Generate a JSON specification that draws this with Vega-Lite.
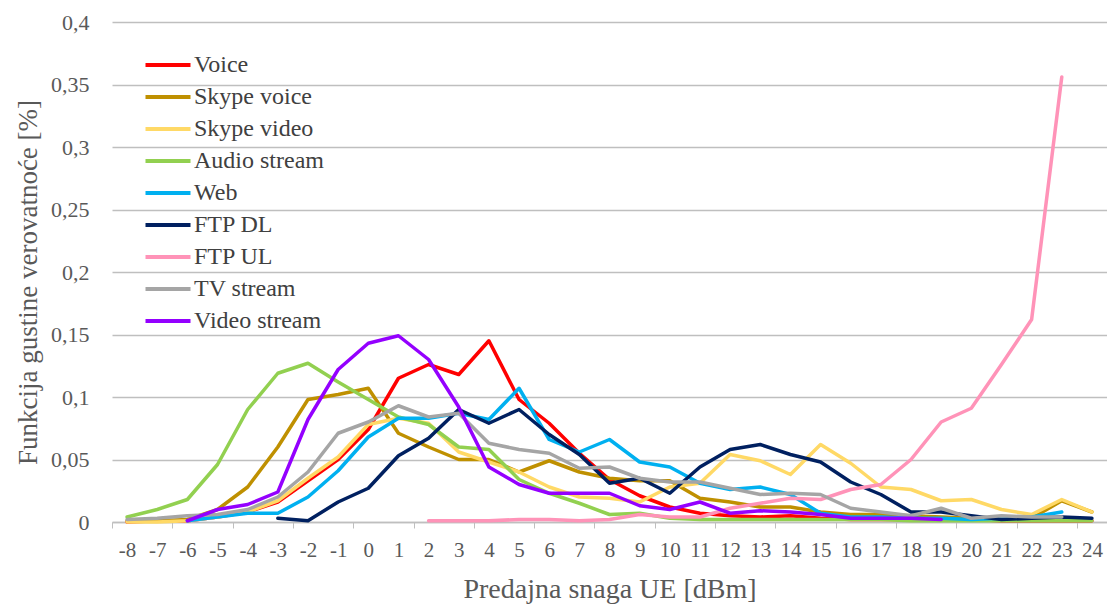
{
  "$schema": "https://vega.github.io/schema/vega-lite/v6.json",
  "width": 995,
  "height": 500,
  "autosize": {"type": "none"},
  "padding": {"left": 112, "top": 22, "right": 0, "bottom": 84},
  "background": "white",
  "config": {
    "view": {"stroke": null},
    "font": "Liberation Serif",
    "text": {"font": "Liberation Serif"}
  },
  "data": {"values": [
    {"s":"Voice","x":-8,"y":0.0},{"s":"Voice","x":-7,"y":0.001},{"s":"Voice","x":-6,"y":0.001},{"s":"Voice","x":-5,"y":0.004},{"s":"Voice","x":-4,"y":0.008},{"s":"Voice","x":-3,"y":0.016},{"s":"Voice","x":-2,"y":0.033},{"s":"Voice","x":-1,"y":0.05},{"s":"Voice","x":0,"y":0.074},{"s":"Voice","x":1,"y":0.115},{"s":"Voice","x":2,"y":0.126},{"s":"Voice","x":3,"y":0.118},{"s":"Voice","x":4,"y":0.145},{"s":"Voice","x":5,"y":0.098},{"s":"Voice","x":6,"y":0.079},{"s":"Voice","x":7,"y":0.055},{"s":"Voice","x":8,"y":0.034},{"s":"Voice","x":9,"y":0.021},{"s":"Voice","x":10,"y":0.012},{"s":"Voice","x":11,"y":0.007},{"s":"Voice","x":12,"y":0.005},{"s":"Voice","x":13,"y":0.004},{"s":"Voice","x":14,"y":0.005},{"s":"Voice","x":15,"y":0.003},{"s":"Voice","x":16,"y":0.002},{"s":"Voice","x":17,"y":0.002},{"s":"Voice","x":18,"y":0.002},{"s":"Voice","x":19,"y":0.002},{"s":"Voice","x":20,"y":0.002},{"s":"Voice","x":21,"y":0.001},{"s":"Voice","x":22,"y":0.001},{"s":"Voice","x":23,"y":0.001},{"s":"Voice","x":24,"y":0.001},
    {"s":"Skype voice","x":-8,"y":0.001},{"s":"Skype voice","x":-7,"y":0.001},{"s":"Skype voice","x":-6,"y":0.002},{"s":"Skype voice","x":-5,"y":0.01},{"s":"Skype voice","x":-4,"y":0.028},{"s":"Skype voice","x":-3,"y":0.06},{"s":"Skype voice","x":-2,"y":0.098},{"s":"Skype voice","x":-1,"y":0.102},{"s":"Skype voice","x":0,"y":0.107},{"s":"Skype voice","x":1,"y":0.071},{"s":"Skype voice","x":2,"y":0.06},{"s":"Skype voice","x":3,"y":0.05},{"s":"Skype voice","x":4,"y":0.05},{"s":"Skype voice","x":5,"y":0.04},{"s":"Skype voice","x":6,"y":0.049},{"s":"Skype voice","x":7,"y":0.04},{"s":"Skype voice","x":8,"y":0.035},{"s":"Skype voice","x":9,"y":0.033},{"s":"Skype voice","x":10,"y":0.033},{"s":"Skype voice","x":11,"y":0.019},{"s":"Skype voice","x":12,"y":0.016},{"s":"Skype voice","x":13,"y":0.012},{"s":"Skype voice","x":14,"y":0.012},{"s":"Skype voice","x":15,"y":0.008},{"s":"Skype voice","x":16,"y":0.006},{"s":"Skype voice","x":17,"y":0.006},{"s":"Skype voice","x":18,"y":0.005},{"s":"Skype voice","x":19,"y":0.004},{"s":"Skype voice","x":20,"y":0.003},{"s":"Skype voice","x":21,"y":0.003},{"s":"Skype voice","x":22,"y":0.003},{"s":"Skype voice","x":23,"y":0.017},{"s":"Skype voice","x":24,"y":0.008},
    {"s":"Skype video","x":-8,"y":0.0},{"s":"Skype video","x":-7,"y":0.0},{"s":"Skype video","x":-6,"y":0.001},{"s":"Skype video","x":-5,"y":0.004},{"s":"Skype video","x":-4,"y":0.008},{"s":"Skype video","x":-3,"y":0.017},{"s":"Skype video","x":-2,"y":0.035},{"s":"Skype video","x":-1,"y":0.052},{"s":"Skype video","x":0,"y":0.078},{"s":"Skype video","x":1,"y":0.083},{"s":"Skype video","x":2,"y":0.079},{"s":"Skype video","x":3,"y":0.056},{"s":"Skype video","x":4,"y":0.048},{"s":"Skype video","x":5,"y":0.04},{"s":"Skype video","x":6,"y":0.028},{"s":"Skype video","x":7,"y":0.02},{"s":"Skype video","x":8,"y":0.019},{"s":"Skype video","x":9,"y":0.016},{"s":"Skype video","x":10,"y":0.028},{"s":"Skype video","x":11,"y":0.031},{"s":"Skype video","x":12,"y":0.054},{"s":"Skype video","x":13,"y":0.049},{"s":"Skype video","x":14,"y":0.038},{"s":"Skype video","x":15,"y":0.062},{"s":"Skype video","x":16,"y":0.047},{"s":"Skype video","x":17,"y":0.028},{"s":"Skype video","x":18,"y":0.026},{"s":"Skype video","x":19,"y":0.017},{"s":"Skype video","x":20,"y":0.018},{"s":"Skype video","x":21,"y":0.01},{"s":"Skype video","x":22,"y":0.006},{"s":"Skype video","x":23,"y":0.018},{"s":"Skype video","x":24,"y":0.008},
    {"s":"Audio stream","x":-8,"y":0.004},{"s":"Audio stream","x":-7,"y":0.01},{"s":"Audio stream","x":-6,"y":0.018},{"s":"Audio stream","x":-5,"y":0.046},{"s":"Audio stream","x":-4,"y":0.09},{"s":"Audio stream","x":-3,"y":0.119},{"s":"Audio stream","x":-2,"y":0.127},{"s":"Audio stream","x":-1,"y":0.112},{"s":"Audio stream","x":0,"y":0.098},{"s":"Audio stream","x":1,"y":0.084},{"s":"Audio stream","x":2,"y":0.078},{"s":"Audio stream","x":3,"y":0.06},{"s":"Audio stream","x":4,"y":0.058},{"s":"Audio stream","x":5,"y":0.034},{"s":"Audio stream","x":6,"y":0.023},{"s":"Audio stream","x":7,"y":0.015},{"s":"Audio stream","x":8,"y":0.006},{"s":"Audio stream","x":9,"y":0.007},{"s":"Audio stream","x":10,"y":0.003},{"s":"Audio stream","x":11,"y":0.002},{"s":"Audio stream","x":12,"y":0.002},{"s":"Audio stream","x":13,"y":0.002},{"s":"Audio stream","x":14,"y":0.002},{"s":"Audio stream","x":15,"y":0.002},{"s":"Audio stream","x":16,"y":0.002},{"s":"Audio stream","x":17,"y":0.002},{"s":"Audio stream","x":18,"y":0.001},{"s":"Audio stream","x":19,"y":0.001},{"s":"Audio stream","x":20,"y":0.001},{"s":"Audio stream","x":21,"y":0.001},{"s":"Audio stream","x":22,"y":0.001},{"s":"Audio stream","x":23,"y":0.001},{"s":"Audio stream","x":24,"y":0.001},
    {"s":"Web","x":-6,"y":0.001},{"s":"Web","x":-5,"y":0.004},{"s":"Web","x":-4,"y":0.007},{"s":"Web","x":-3,"y":0.007},{"s":"Web","x":-2,"y":0.02},{"s":"Web","x":-1,"y":0.041},{"s":"Web","x":0,"y":0.068},{"s":"Web","x":1,"y":0.083},{"s":"Web","x":2,"y":0.083},{"s":"Web","x":3,"y":0.087},{"s":"Web","x":4,"y":0.082},{"s":"Web","x":5,"y":0.107},{"s":"Web","x":6,"y":0.066},{"s":"Web","x":7,"y":0.056},{"s":"Web","x":8,"y":0.066},{"s":"Web","x":9,"y":0.048},{"s":"Web","x":10,"y":0.044},{"s":"Web","x":11,"y":0.031},{"s":"Web","x":12,"y":0.026},{"s":"Web","x":13,"y":0.028},{"s":"Web","x":14,"y":0.022},{"s":"Web","x":15,"y":0.007},{"s":"Web","x":16,"y":0.004},{"s":"Web","x":17,"y":0.004},{"s":"Web","x":18,"y":0.003},{"s":"Web","x":19,"y":0.003},{"s":"Web","x":20,"y":0.002},{"s":"Web","x":21,"y":0.003},{"s":"Web","x":22,"y":0.004},{"s":"Web","x":23,"y":0.008},
    {"s":"FTP DL","x":-3,"y":0.003},{"s":"FTP DL","x":-2,"y":0.001},{"s":"FTP DL","x":-1,"y":0.016},{"s":"FTP DL","x":0,"y":0.027},{"s":"FTP DL","x":1,"y":0.053},{"s":"FTP DL","x":2,"y":0.067},{"s":"FTP DL","x":3,"y":0.09},{"s":"FTP DL","x":4,"y":0.079},{"s":"FTP DL","x":5,"y":0.09},{"s":"FTP DL","x":6,"y":0.07},{"s":"FTP DL","x":7,"y":0.054},{"s":"FTP DL","x":8,"y":0.031},{"s":"FTP DL","x":9,"y":0.035},{"s":"FTP DL","x":10,"y":0.023},{"s":"FTP DL","x":11,"y":0.044},{"s":"FTP DL","x":12,"y":0.058},{"s":"FTP DL","x":13,"y":0.062},{"s":"FTP DL","x":14,"y":0.054},{"s":"FTP DL","x":15,"y":0.048},{"s":"FTP DL","x":16,"y":0.032},{"s":"FTP DL","x":17,"y":0.022},{"s":"FTP DL","x":18,"y":0.008},{"s":"FTP DL","x":19,"y":0.008},{"s":"FTP DL","x":20,"y":0.005},{"s":"FTP DL","x":21,"y":0.002},{"s":"FTP DL","x":22,"y":0.003},{"s":"FTP DL","x":23,"y":0.004},{"s":"FTP DL","x":24,"y":0.003},
    {"s":"FTP UL","x":2,"y":0.001},{"s":"FTP UL","x":3,"y":0.001},{"s":"FTP UL","x":4,"y":0.001},{"s":"FTP UL","x":5,"y":0.002},{"s":"FTP UL","x":6,"y":0.002},{"s":"FTP UL","x":7,"y":0.001},{"s":"FTP UL","x":8,"y":0.002},{"s":"FTP UL","x":9,"y":0.006},{"s":"FTP UL","x":10,"y":0.004},{"s":"FTP UL","x":11,"y":0.004},{"s":"FTP UL","x":12,"y":0.011},{"s":"FTP UL","x":13,"y":0.015},{"s":"FTP UL","x":14,"y":0.019},{"s":"FTP UL","x":15,"y":0.018},{"s":"FTP UL","x":16,"y":0.026},{"s":"FTP UL","x":17,"y":0.03},{"s":"FTP UL","x":18,"y":0.05},{"s":"FTP UL","x":19,"y":0.08},{"s":"FTP UL","x":20,"y":0.091},{"s":"FTP UL","x":21,"y":0.126},{"s":"FTP UL","x":22,"y":0.162},{"s":"FTP UL","x":23,"y":0.356},
    {"s":"TV stream","x":-8,"y":0.002},{"s":"TV stream","x":-7,"y":0.003},{"s":"TV stream","x":-6,"y":0.005},{"s":"TV stream","x":-5,"y":0.006},{"s":"TV stream","x":-4,"y":0.01},{"s":"TV stream","x":-3,"y":0.02},{"s":"TV stream","x":-2,"y":0.04},{"s":"TV stream","x":-1,"y":0.071},{"s":"TV stream","x":0,"y":0.08},{"s":"TV stream","x":1,"y":0.093},{"s":"TV stream","x":2,"y":0.084},{"s":"TV stream","x":3,"y":0.087},{"s":"TV stream","x":4,"y":0.063},{"s":"TV stream","x":5,"y":0.058},{"s":"TV stream","x":6,"y":0.055},{"s":"TV stream","x":7,"y":0.043},{"s":"TV stream","x":8,"y":0.044},{"s":"TV stream","x":9,"y":0.035},{"s":"TV stream","x":10,"y":0.032},{"s":"TV stream","x":11,"y":0.032},{"s":"TV stream","x":12,"y":0.027},{"s":"TV stream","x":13,"y":0.022},{"s":"TV stream","x":14,"y":0.023},{"s":"TV stream","x":15,"y":0.022},{"s":"TV stream","x":16,"y":0.011},{"s":"TV stream","x":17,"y":0.008},{"s":"TV stream","x":18,"y":0.005},{"s":"TV stream","x":19,"y":0.011},{"s":"TV stream","x":20,"y":0.003},{"s":"TV stream","x":21,"y":0.005},{"s":"TV stream","x":22,"y":0.004},{"s":"TV stream","x":23,"y":0.004},
    {"s":"Video stream","x":-6,"y":0.001},{"s":"Video stream","x":-5,"y":0.01},{"s":"Video stream","x":-4,"y":0.014},{"s":"Video stream","x":-3,"y":0.024},{"s":"Video stream","x":-2,"y":0.082},{"s":"Video stream","x":-1,"y":0.122},{"s":"Video stream","x":0,"y":0.143},{"s":"Video stream","x":1,"y":0.149},{"s":"Video stream","x":2,"y":0.13},{"s":"Video stream","x":3,"y":0.092},{"s":"Video stream","x":4,"y":0.044},{"s":"Video stream","x":5,"y":0.03},{"s":"Video stream","x":6,"y":0.023},{"s":"Video stream","x":7,"y":0.023},{"s":"Video stream","x":8,"y":0.023},{"s":"Video stream","x":9,"y":0.013},{"s":"Video stream","x":10,"y":0.01},{"s":"Video stream","x":11,"y":0.016},{"s":"Video stream","x":12,"y":0.007},{"s":"Video stream","x":13,"y":0.009},{"s":"Video stream","x":14,"y":0.008},{"s":"Video stream","x":15,"y":0.006},{"s":"Video stream","x":16,"y":0.003},{"s":"Video stream","x":17,"y":0.003},{"s":"Video stream","x":18,"y":0.003},{"s":"Video stream","x":19,"y":0.002}
  ]},
  "mark": {"type": "line", "strokeWidth": 3.5, "strokeJoin": "round", "strokeCap": "round"},
  "encoding": {
    "x": {
      "field": "x", "type": "quantitative",
      "scale": {"domain": [-8.5, 24.5], "nice": false, "zero": false},
      "axis": {
        "title": "Predajna snaga UE [dBm]",
        "values": [-8.5,-8,-7.5,-7,-6.5,-6,-5.5,-5,-4.5,-4,-3.5,-3,-2.5,-2,-1.5,-1,-0.5,0,0.5,1,1.5,2,2.5,3,3.5,4,4.5,5,5.5,6,6.5,7,7.5,8,8.5,9,9.5,10,10.5,11,11.5,12,12.5,13,13.5,14,14.5,15,15.5,16,16.5,17,17.5,18,18.5,19,19.5,20,20.5,21,21.5,22,22.5,23,23.5,24],
        "labelExpr": "datum.value % 1 == 0 ? toString(datum.value) : ''",
        "labelOverlap": false,
        "labelFont": "Liberation Serif",
        "labelFontSize": 21,
        "labelColor": "#595959",
        "labelPadding": 11,
        "labelBound": false,
        "labelFlush": false,
        "tickSize": 6,
        "tickColor": "#bfbfbf",
        "tickOpacity": {"condition": {"test": "(datum.value + 8.5) % 2 == 0", "value": 1}, "value": 0},
        "domainColor": "#bfbfbf",
        "domainWidth": 1.5,
        "grid": false,
        "titleFont": "Liberation Serif",
        "titleFontWeight": "normal",
        "titleColor": "#595959",
        "titleFontSize": 28,
        "titlePadding": 15
      }
    },
    "y": {
      "field": "y", "type": "quantitative",
      "scale": {"domain": [0, 0.4], "nice": false},
      "axis": {
        "title": "Funkcija gustine verovatnoće [%]",
        "values": [0, 0.05, 0.1, 0.15, 0.2, 0.25, 0.3, 0.35, 0.4],
        "labelExpr": "replace(format(datum.value, '.2~f'), '.', ',')",
        "labelFont": "Liberation Serif",
        "labelFontSize": 22,
        "labelColor": "#595959",
        "labelPadding": 23,
        "ticks": false,
        "domain": false,
        "grid": true,
        "gridColor": "#bfbfbf",
        "gridWidth": 1.3,
        "titleFont": "Liberation Serif",
        "titleFontWeight": "normal",
        "titleColor": "#595959",
        "titleFontSize": 27,
        "titlePadding": 8,
        "titleY": 260
      }
    },
    "color": {
      "field": "s", "type": "nominal",
      "scale": {
        "domain": ["Voice", "Skype voice", "Skype video", "Audio stream", "Web", "FTP DL", "FTP UL", "TV stream", "Video stream"],
        "range": ["#ff0000", "#bf9000", "#ffd966", "#92d050", "#00b0f0", "#002060", "#ff93b8", "#a5a5a5", "#9400ff"]
      },
      "legend": {
        "title": null,
        "orient": "none",
        "legendX": 44,
        "legendY": 31,
        "symbolType": "M-2.5,0H2.5",
        "symbolSize": 324,
        "symbolStrokeWidth": 4,
        "labelFont": "Liberation Serif",
        "labelFontSize": 24,
        "labelColor": "#404040",
        "labelOffset": 14,
        "rowPadding": 8,
        "padding": 0
      }
    }
  }
}
